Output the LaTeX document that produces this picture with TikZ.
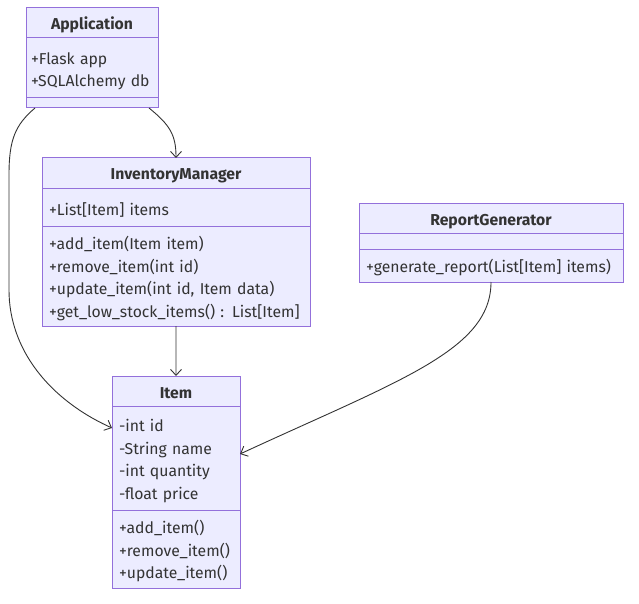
\documentclass[tikz,border=0pt]{standalone}
\usepackage{fontspec}
\setmainfont{Fira Sans}
\usepackage{tikz}
\usetikzlibrary{arrows.meta,positioning}
\definecolor{UmlFill}{HTML}{ECECFF}
\definecolor{UmlBorder}{HTML}{9370DB}
\definecolor{UmlInk}{HTML}{333333}
\tikzset{
  ubox/.style={draw=UmlBorder,fill=UmlFill,line width=1bp,outer sep=0pt,
    inner sep=0pt,text=UmlInk},
  uhead/.style={ubox,minimum height=30bp,text height=15bp,text depth=1bp,
    font=\fontsize{15.8}{18}\selectfont\bfseries},
  ubody/.style={ubox,align=left,inner xsep=7bp,font=\fontsize{15.8}{22.7}\selectfont},
  ulines/.style={ubody,execute at begin node={\rule{0pt}{18bp}}},
  uarrow/.style={-{Straight Barb[length=6bp,width=11bp]},UmlInk,line width=0.9bp}
}

\begin{document}
\begin{tikzpicture}[x=1bp,y=-1bp]
  \path[use as bounding box] (0,0) rectangle (639,604);

  \node[uhead,anchor=north west,minimum width=132bp] (appH) at (26,8) {Application};
  \node[ulines,below=0pt of appH,inner xsep=5bp,text width=122bp,minimum height=60bp] (appA)
    {+Flask app\\+SQLAlchemy db};
  \node[ubody,below=0pt of appA,minimum width=132bp,minimum height=10bp] (appM) {};

  \node[uhead,anchor=north west,minimum width=268bp] (imH) at (42,158) {InventoryManager};
  \node[ulines,below=0pt of imH,text width=254bp,minimum height=38bp] (imA)
    {+List[Item] items};
  \node[ulines,below=0pt of imA,text width=254bp,minimum height=100bp] (imM)
    {+add\_item(Item item)\\+remove\_item(int id)\\+update\_item(int id, Item data)\\+get\_low\_stock\_items() : List[Item]};

  \node[uhead,anchor=north west,minimum width=264bp] (rgH) at (359,203) {ReportGenerator};
  \node[ubody,below=0pt of rgH,minimum width=264bp,minimum height=16bp] (rgA) {};
  \node[ulines,below=0pt of rgA,text width=250bp,minimum height=33bp] (rgM)
    {+generate\_report(List[Item] items)};

  \node[uhead,anchor=north west,minimum width=128bp] (itemH) at (112,376) {Item};
  \node[ulines,below=0pt of itemH,text width=114bp,minimum height=104bp] (itemA)
    {-int id\\-String name\\-int quantity\\-float price};
  \node[ulines,below=0pt of itemA,text width=114bp,minimum height=78bp] (itemM)
    {+add\_item()\\+remove\_item()\\+update\_item()};

  \draw[uarrow] ([xshift=-9bp]appM.south east) .. controls (170,125) and (176,135) .. (imH.north);
  \draw[uarrow] ([xshift=9bp]appM.south west) .. controls (15,125) and (9,140) .. (9,175)
    -- (9,290) .. controls (9,350) and (50,400) .. ([yshift=30bp]itemA.west);
  \draw[uarrow] (imM.south) -- (itemH.north);
  \draw[uarrow] (rgM.south) .. controls (491,350) and (400,380) .. ([yshift=4bp]itemA.east);
\end{tikzpicture}
\end{document}
